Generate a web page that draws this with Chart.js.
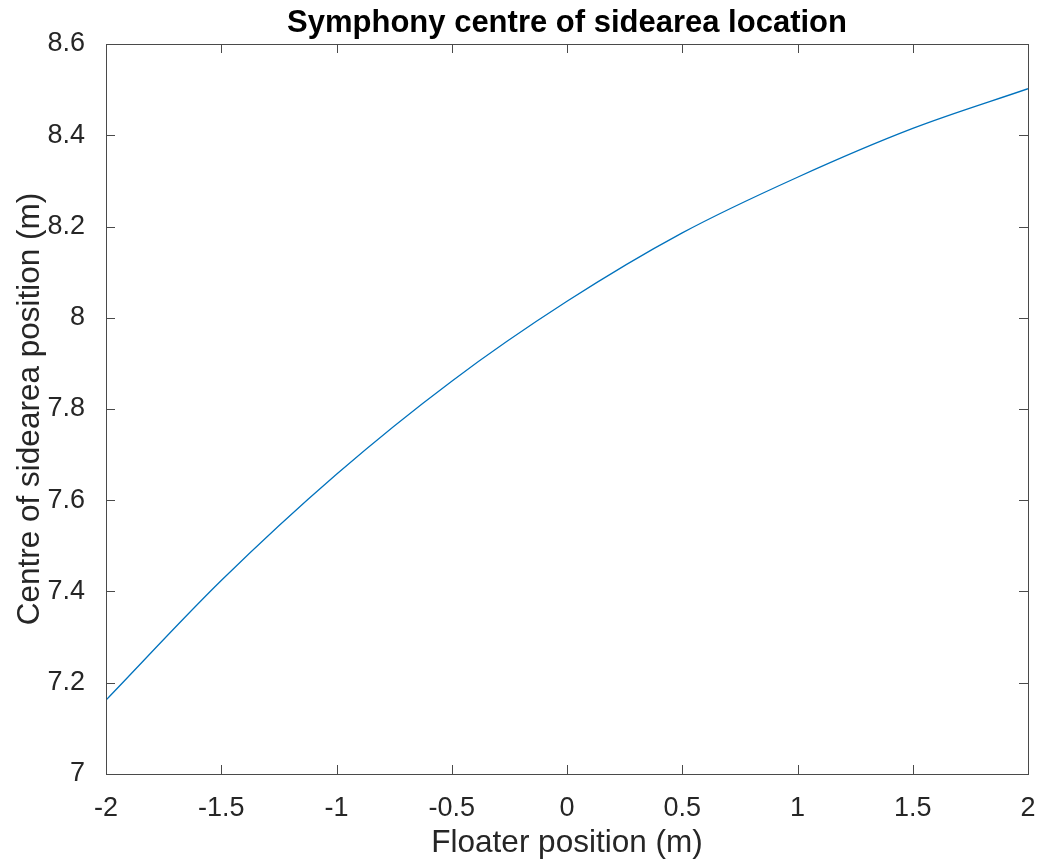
<!DOCTYPE html>
<html>
<head>
<meta charset="utf-8">
<script src="https://cdn.jsdelivr.net/npm/chart.js@4/dist/chart.umd.min.js"></script>
<style>
  html, body { margin: 0; padding: 0; background: #fff; }
  #wrap { width: 1042px; height: 866px; }
</style>
</head>
<body>
<div id="wrap"><canvas id="sideCentre"></canvas></div>
<script>
// floater position (m) and centre of sidearea (m)
const floaterPos = [-2, -1.5, -1, -0.5, 0, 0.5, 1, 1.5, 2];
const centrePos = [7.162, 7.424, 7.657, 7.861, 8.036, 8.186, 8.308, 8.415, 8.502];

const xTicks = [-2, -1.5, -1, -0.5, 0, 0.5, 1, 1.5, 2];
const yTicks = [7, 7.2, 7.4, 7.6, 7.8, 8, 8.2, 8.4, 8.6];

const titleText = 'Symphony centre of sidearea location';
const fontFam = '"Liberation Sans", Arial, Helvetica, sans-serif';
const axisCol = '#262626';

var points = [];
for (var i = 0; i < floaterPos.length; i++) {
    points.push({x: floaterPos[i], y: centrePos[i]});
}

// plain number labels: 2 not 2.0, 8 not 8.0
function plainLabel(value) {
    return String(Math.round(value * 10) / 10);
}

// box around the axes, ticks pointing inward, plus the bold title
const boxPlugin = {
    id: 'boxPlugin',
    afterDraw(chart) {
        const ctx = chart.ctx;
        const a = chart.chartArea;
        const xs = chart.scales.x;
        const ys = chart.scales.y;
        const len = 9;
        ctx.save();
        ctx.strokeStyle = '#4a4a4a';
        ctx.lineWidth = 1;
        ctx.strokeRect(Math.round(a.left) + 0.5, Math.round(a.top) + 0.5,
            Math.round(a.right - a.left), Math.round(a.bottom - a.top));
        ctx.beginPath();
        xTicks.forEach(v => {
            const px = Math.round(xs.getPixelForValue(v)) + 0.5;
            ctx.moveTo(px, a.bottom);
            ctx.lineTo(px, a.bottom - len);
            ctx.moveTo(px, a.top);
            ctx.lineTo(px, a.top + len);
        });
        yTicks.forEach(v => {
            const py = Math.round(ys.getPixelForValue(v)) + 0.5;
            ctx.moveTo(a.left, py);
            ctx.lineTo(a.left + len, py);
            ctx.moveTo(a.right, py);
            ctx.lineTo(a.right - len, py);
        });
        ctx.stroke();

        ctx.fillStyle = '#000';
        ctx.font = 'bold 31px ' + fontFam;
        ctx.textAlign = 'center';
        ctx.textBaseline = 'middle';
        ctx.fillText(titleText, (a.left + a.right) / 2, 23);
        ctx.restore();
    }
};

var ctx = document.getElementById('sideCentre').getContext('2d');
var sideChart = new Chart(ctx, {
    type: 'line',
    data: {
        datasets: [{
            label: 'Centre of sidearea',
            data: points,
            borderColor: '#0072BD',
            borderWidth: 1.3,
            pointRadius: 0,
            fill: false,
            cubicInterpolationMode: 'monotone'
        }]
    },
    options: {
        responsive: true,
        maintainAspectRatio: false,
        animation: false,
        layout: {
            padding: {top: 44, right: 14, bottom: 0, left: 0}
        },
        plugins: {
            legend: { display: false },
            tooltip: { enabled: false }
        },
        scales: {
            x: {
                type: 'linear',
                min: -2,
                max: 2,
                grid: { display: false },
                border: { display: false },
                afterBuildTicks: (s) => { s.ticks = xTicks.map(v => ({value: v})); },
                afterFit: (s) => { s.height = 92; s.paddingLeft = 0; s.paddingRight = 0; },
                ticks: {
                    color: axisCol,
                    font: { family: fontFam, size: 27 },
                    padding: 10,
                    maxRotation: 0,
                    autoSkip: false,
                    callback: plainLabel
                },
                title: {
                    display: true,
                    text: 'Floater position (m)',
                    color: axisCol,
                    font: { family: fontFam, size: 31.5 },
                    padding: { top: 0, bottom: 4 }
                }
            },
            y: {
                type: 'linear',
                min: 7,
                max: 8.6,
                grid: { display: false },
                border: { display: false },
                afterBuildTicks: (s) => { s.ticks = yTicks.map(v => ({value: v})); },
                afterFit: (s) => { s.width = 106; s.paddingTop = 0; s.paddingBottom = 0; },
                ticks: {
                    color: axisCol,
                    font: { family: fontFam, size: 27 },
                    padding: 13,
                    autoSkip: false,
                    callback: plainLabel
                },
                title: {
                    display: true,
                    text: 'Centre of sidearea position (m)',
                    color: axisCol,
                    font: { family: fontFam, size: 31.5 },
                    padding: { top: 11, bottom: 0 }
                }
            }
        }
    },
    plugins: [boxPlugin]
});
</script>
</body>
</html>
